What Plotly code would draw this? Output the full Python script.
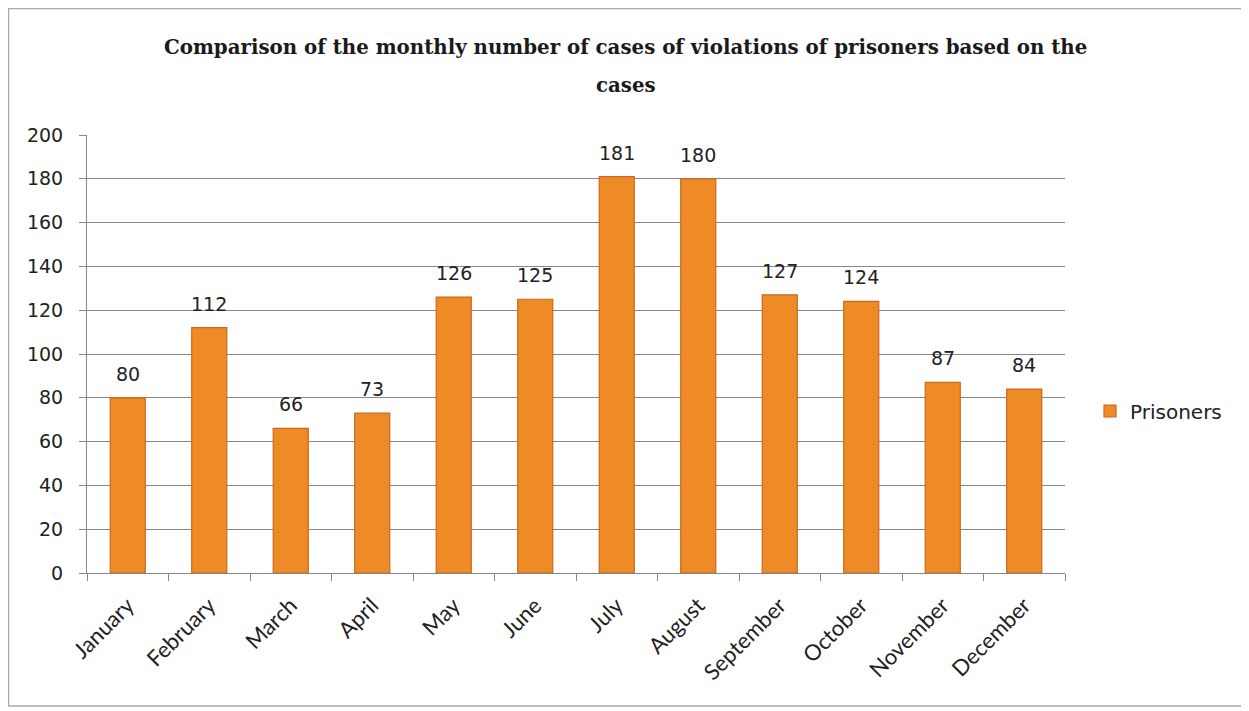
import plotly.graph_objects as go

months = ["January", "February", "March", "April", "May", "June", "July",
          "August", "September", "October", "November", "December"]
prisoners = [80, 112, 66, 73, 126, 125, 181, 180, 127, 124, 87, 84]
series_name = "Prisoners"
title_line1 = "Comparison of the monthly number of cases of violations of prisoners based on the"
title_line2 = "cases"
y_ticks = list(range(0, 201, 20))

# figure geometry (page body adds an 8px offset)
FW, FH = 1241, 703
ML, MR, MT, MB = 79, 184, 127, 138
PW, PH = FW - ML - MR, FH - MT - MB


def px_x(px):
    return (px - ML) / PW


def px_y(py):
    return (FH - MB - py) / PH


fig = go.Figure()
fig.add_trace(go.Bar(
    x=months, y=prisoners, name=series_name,
    marker=dict(color="#EF8B27", line=dict(color="#C9691C", width=1.2)),
    width=0.43,
))

ann = []
for m, v in zip(months, prisoners):
    ann.append(dict(x=m, y=v, xref="x", yref="y", text=str(v), showarrow=False,
                    yanchor="bottom", yshift=11,
                    font=dict(family="DejaVu Sans", size=19, color="#222222")))
for txt, ypx in [(title_line1, 39), (title_line2, 77)]:
    ann.append(dict(text="<b>" + txt + "</b>", x=px_x(FW / 2 - 3), xref="paper",
                    xanchor="center", y=px_y(ypx), yref="paper", yanchor="middle",
                    showarrow=False,
                    font=dict(family="DejaVu Serif", size=19.8, color="#1a1a1a")))

fig.update_layout(
    width=FW, height=FH,
    paper_bgcolor="white", plot_bgcolor="white",
    margin=dict(l=ML, r=MR, t=MT, b=MB),
    showlegend=True,
    legend=dict(x=px_x(1082), y=px_y(403), xanchor="left", yanchor="middle",
                font=dict(family="DejaVu Sans", size=20, color="#222222"),
                itemwidth=30, bgcolor="rgba(0,0,0,0)"),
    annotations=ann,
)

fig.update_xaxes(
    showline=True, linecolor="#868686", linewidth=1,
    ticks="outside", tickson="boundaries", ticklen=7, tickcolor="#868686",
    tickangle=-45, tickfont=dict(family="Lato", size=22, color="#222222"),
    ticklabelstandoff=10,
    showgrid=False,
)
fig.update_yaxes(
    range=[0, 200], tickvals=y_ticks,
    showline=True, linecolor="#868686", linewidth=1,
    ticks="outside", ticklen=7, tickcolor="#868686",
    showgrid=True, gridcolor="#868686", gridwidth=1,
    tickfont=dict(family="DejaVu Sans", size=19, color="#222222"),
    ticklabelstandoff=12,
    zeroline=False,
)
fig.add_shape(type="rect", xref="paper", yref="paper",
              x0=px_x(0.5), x1=px_x(1238), y0=px_y(698), y1=px_y(0.5),
              line=dict(color="#a8a8a8", width=1.5), layer="below")

fig.write_html("out.html")
